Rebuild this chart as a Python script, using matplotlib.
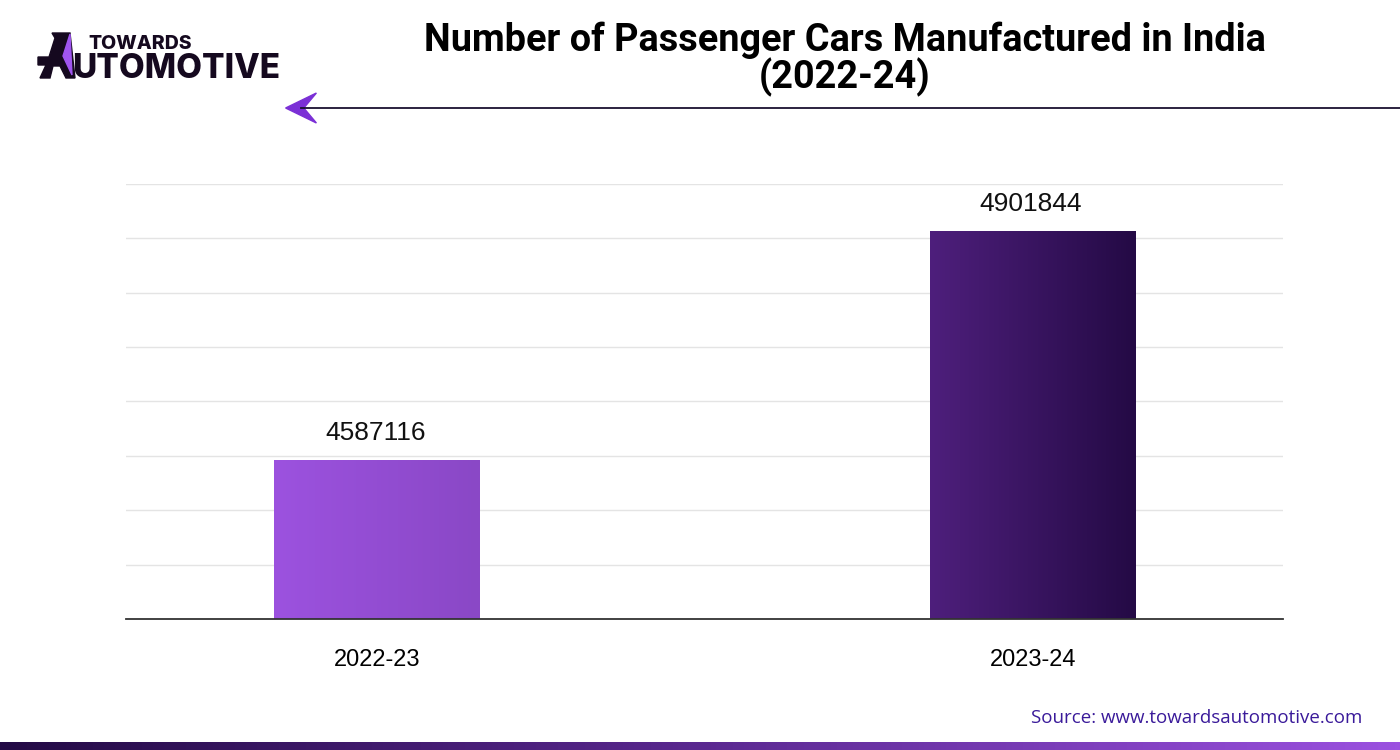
import numpy as np
import matplotlib
matplotlib.use("Agg")
import matplotlib.pyplot as plt
from matplotlib.colors import LinearSegmentedColormap
from matplotlib.patches import Polygon

# data
years = ["2022-23", "2023-24"]
cars = [4587116, 4901844]
bar_colors = [("#9c52df", "#8a48c6"), ("#4e1f7c", "#240a45")]

W, H = 1400, 750


def px(pts):
    # pixel coords -> figure fraction
    return [[x / W, 1 - y / H] for x, y in pts]


fig = plt.figure(figsize=(14, 7.5), dpi=100)
ax = fig.add_axes([0.09, 0.1747, 0.8264, 0.58])

ymin, ymax = 4368600, 4966500
ax.set_xlim(-0.383, 1.381)
ax.set_ylim(ymin, ymax)

x = np.arange(len(years))
width = 0.314
grad = np.linspace(0, 1, 256).reshape(1, -1)
for xi, val, (c1, c2) in zip(x, cars, bar_colors):
    cmap = LinearSegmentedColormap.from_list("g", [c1, c2])
    ax.imshow(grad, cmap=cmap, aspect="auto", zorder=3,
              extent=[xi - width / 2, xi + width / 2, ymin, val])
    ax.text(xi - 0.003, val + 21000, str(val), ha="center", va="bottom",
            fontsize=19, family="Liberation Sans", color="#111111")

ax.set_xticks(x)
ax.set_xticklabels(years, fontsize=17, family="Liberation Sans")
ax.tick_params(axis="x", length=0, pad=21.5)
ax.set_yticks(np.linspace(ymin, ymax, 9))
ax.tick_params(axis="y", length=0, labelleft=False)
ax.grid(axis="y", color="#e4e4e4", linewidth=1)
ax.set_axisbelow(True)
for s in ["top", "right", "left"]:
    ax.spines[s].set_visible(False)
ax.spines["bottom"].set_color("#333333")
ax.spines["bottom"].set_linewidth(1.3)
ax.spines["bottom"].set_zorder(4)
ax.set_xlim(-0.383, 1.381)

# title
fig.text(0.6035, 0.921, "Number of Passenger Cars Manufactured in India\n(2022-24)",
         ha="center", va="center", fontsize=27.3, fontweight="bold",
         family="Roboto", color="#000000", linespacing=0.98)

# arrow line under title
fig.add_artist(plt.Line2D([0.215, 1.0], [0.856, 0.856], color="#1a1030", lw=1.3))
fig.add_artist(Polygon([[0.204, 0.856], [0.226, 0.876], [0.217, 0.856], [0.226, 0.836]],
                       closed=True, color="#7b30d6", transform=fig.transFigure))

# logo
dark = "#15091f"
fig.text(88 / W, 1 - 44 / H, "TOWARDS", fontsize=14, fontweight="heavy",
         family="Inter", color=dark, va="center")
fig.text(72 / W, 1 - 69 / H, "UTOMOTIVE", fontsize=24, fontweight="heavy",
         family="Inter", color=dark, va="center")
fig.add_artist(Polygon(px([(40, 78), (50, 78), (53, 66), (60, 66), (66, 78), (75, 78),
                           (70, 33), (52, 33), (55, 38), (49, 57), (38, 57), (38, 65),
                           (46, 65)]),
                       closed=True, color=dark, transform=fig.transFigure))
fig.add_artist(Polygon(px([(70, 34), (63, 56), (72, 75)]),
                       closed=True, color="#a055f0", transform=fig.transFigure))

# source
fig.text(0.973, 0.043, "Source: www.towardsautomotive.com", ha="right", va="center",
         fontsize=13.5, family="Open Sans", color="#3a1a9a")

# bottom band
band = fig.add_axes([0, 0, 1, 0.011])
band.imshow(grad, cmap=LinearSegmentedColormap.from_list("b", ["#230a45", "#5a2890", "#9b51e0"]),
            aspect="auto", extent=[0, 1, 0, 1])
band.axis("off")

fig.savefig("out.png", dpi=100)
